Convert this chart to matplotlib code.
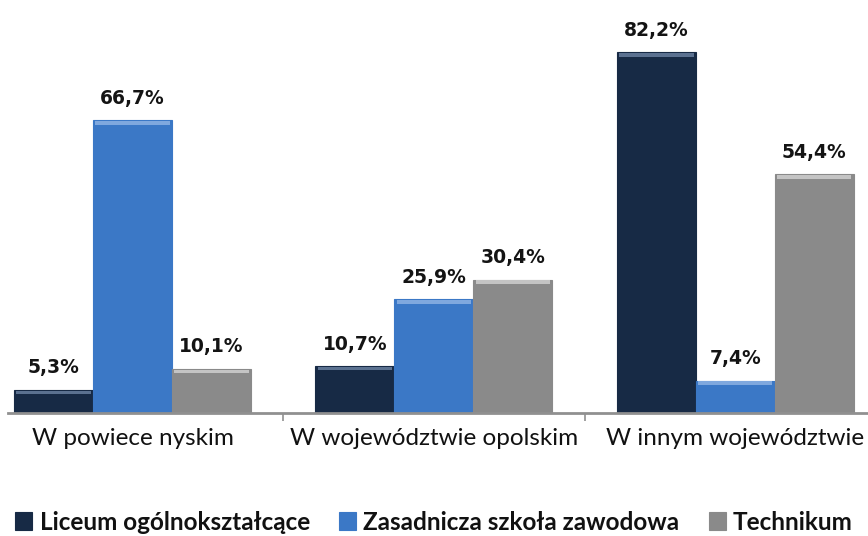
import matplotlib.pyplot as plt
import numpy as np

categories = ["W powiece nyskim", "W województwie opolskim", "W innym województwie"]
series_names = ["Liceum ogólnokształcące", "Zasadnicza szkoła zawodowa", "Technikum"]
liceum = [5.3, 10.7, 82.2]
zasadnicza = [66.7, 25.9, 7.4]
technikum = [10.1, 30.4, 54.4]

colors = ["#172a45", "#3b78c6", "#8a8a8a"]
highlights = ["#5b7190", "#7fa8de", "#c4c4c4"]

plt.rcParams["font.family"] = ["Lato", "DejaVu Sans"]

fig = plt.figure(figsize=(8.68, 5.36), dpi=100)
ax = fig.add_axes([8 / 868, 123 / 536, 860 / 868, 395 / 536])

x = np.arange(len(categories))
width = 0.262
series = [liceum, zasadnicza, technikum]
for i, (vals, name) in enumerate(zip(series, series_names)):
    pos = x + (i - 1) * width
    ax.bar(pos, vals, width, color=colors[i], edgecolor=colors[i], linewidth=0.8,
           label=name, zorder=2)
    # light bevel strip on top of each bar
    ax.bar(pos, [0.8] * len(vals), width * 0.94, bottom=[v - 1.0 for v in vals],
           color=highlights[i], linewidth=0, zorder=3)
    for p, v in zip(pos, vals):
        ax.text(p, v + 2.8, f"{v:.1f}%".replace(".", ","), ha="center", va="bottom",
                fontsize=13.5, fontweight="bold", color="#141414",
                family="DejaVu Sans")

ax.set_xlim(-0.413, 2.44)
ax.set_ylim(0, 90)
ax.set_yticks([])
ax.set_xticks([0.5, 1.5])
ax.set_xticklabels([])
ax.tick_params(axis="x", length=6, width=1.2, color="#909090", direction="out")
for side in ["left", "right", "top"]:
    ax.spines[side].set_visible(False)
ax.spines["bottom"].set_color("#909090")
ax.spines["bottom"].set_linewidth(2)

for xi, cat in zip(x, categories):
    ax.text(xi, -5.8, cat, ha="center", va="center", fontsize=17.5,
            color="#111111", transform=ax.transData, clip_on=False)

leg = fig.legend(loc="center", bbox_to_anchor=(0.5, 14 / 536), ncol=3,
                 frameon=False, fontsize=17.5, handlelength=0.7, handleheight=0.7,
                 handletextpad=0.3, columnspacing=1.2)
for t in leg.get_texts():
    t.set_fontweight("bold")
    t.set_color("#111111")

fig.savefig("out.png", dpi=100)
